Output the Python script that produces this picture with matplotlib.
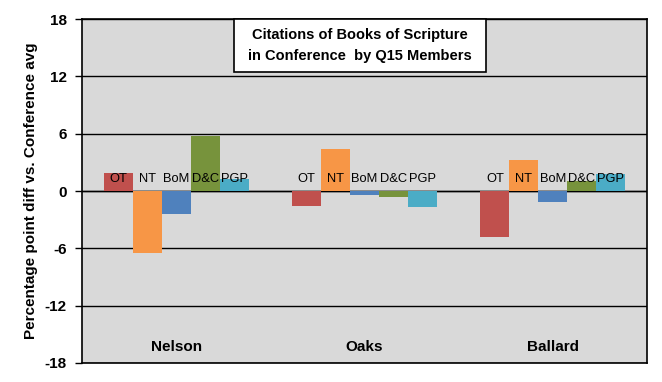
import numpy as np
import matplotlib.pyplot as plt
from matplotlib.patches import Rectangle

members = ["Nelson", "Oaks", "Ballard"]
books = ["OT", "NT", "BoM", "D&C", "PGP"]
colors = ["#C0504D", "#F79646", "#4F81BD", "#77933C", "#4BACC6"]

ot = [1.9, -1.6, -4.8]
nt = [-6.5, 4.4, 3.2]
bom = [-2.4, -0.4, -1.2]
dc = [5.8, -0.6, 1.0]
pgp = [1.3, -1.7, 1.8]
series = [ot, nt, bom, dc, pgp]

yticks = [-18, -12, -6, 0, 6, 12, 18]

plt.rcParams['font.family'] = ['Liberation Sans', 'DejaVu Sans']

W, H = 662, 382
fig = plt.figure(figsize=(6.62, 3.82), dpi=100)
ax = fig.add_axes([82/W, 1 - 363/H, (647-82)/W, (363-19)/H])
ax.set_facecolor("#D9D9D9")

x = np.arange(len(members))
w = 0.154
for i, (name, vals) in enumerate(zip(books, series)):
    xs = x + (i - 2) * w
    ax.bar(xs, vals, width=w, color=colors[i], zorder=3)
    for xi in xs:
        ax.text(xi, 1.3, name, ha='center', va='center', fontsize=9.3, zorder=4)

for xi, m in zip(x, members):
    ax.text(xi, -16.3, m, ha='center', va='center', fontsize=11, fontweight='bold')

ax.set_xlim(-0.5, 2.5)
ax.set_ylim(-18, 18)
ax.set_yticks(yticks)
ax.set_yticklabels([str(t) for t in yticks], fontsize=11, fontweight='bold')
ax.set_xticks([])
ax.grid(axis='y', color='black', linewidth=1.0, zorder=1)
ax.axhline(0, color='black', linewidth=1.0, zorder=2)
for s in ax.spines.values():
    s.set_color('black')
    s.set_linewidth(1.2)
ax.tick_params(axis='y', length=5, width=1, pad=6)

ax.set_ylabel("Percentage point diff vs. Conference avg", fontsize=11,
              fontweight='bold', labelpad=5)

# title box, sitting on the top edge of the plot
fig.patches.append(Rectangle((234/W, 1 - 72/H), (486-234)/W, (72-19)/H,
                             transform=fig.transFigure, facecolor='white',
                             edgecolor='black', linewidth=1.2, zorder=5))
fig.text(360/W, 1 - 45.5/H, "Citations of Books of Scripture\nin Conference  by Q15 Members",
         ha='center', va='center', fontsize=10.5, fontweight='bold',
         linespacing=1.6, zorder=6)

fig.savefig("out.png", dpi=100)
